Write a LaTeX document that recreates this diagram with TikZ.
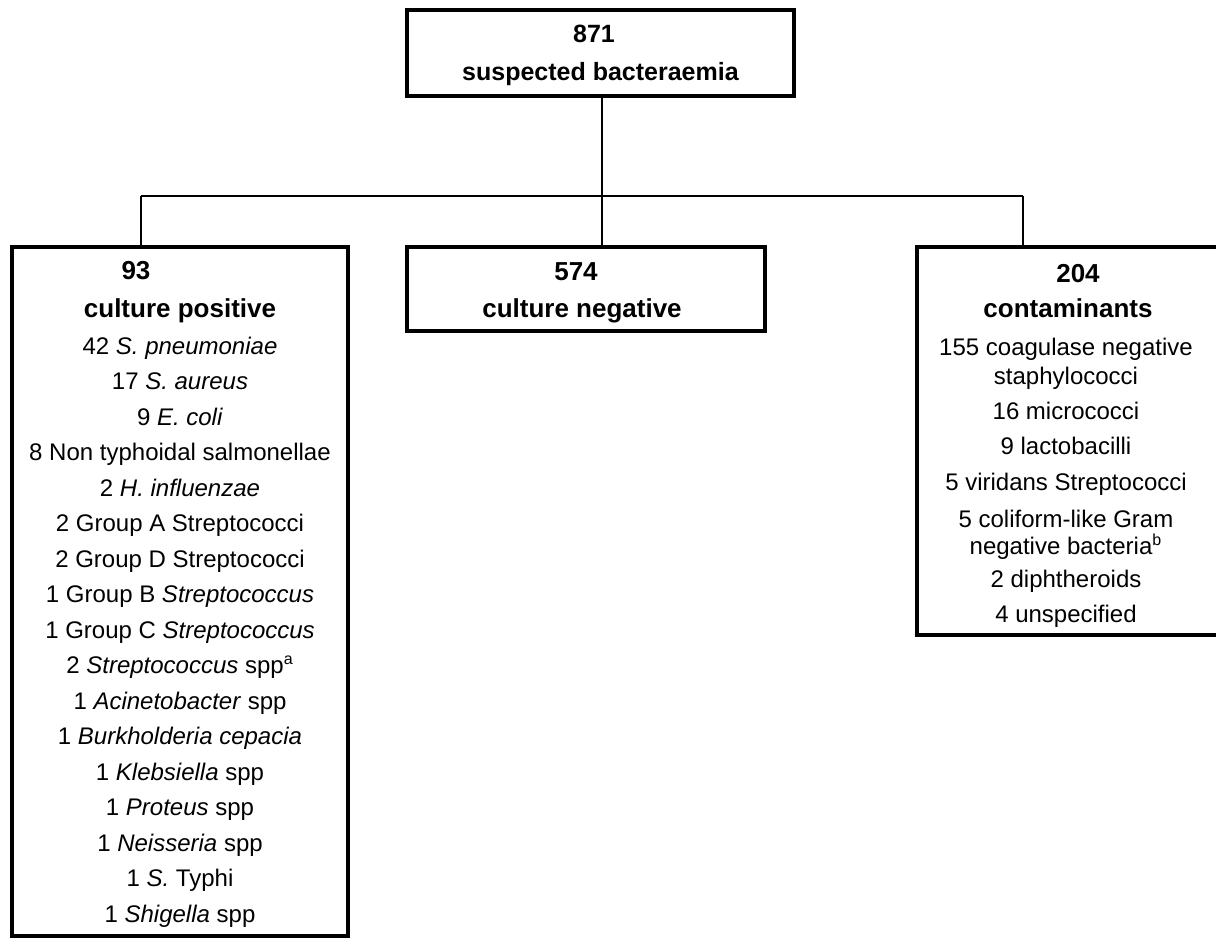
\documentclass[tikz,border=0pt]{standalone}
\usepackage{fontspec}
\setmainfont{Liberation Sans}
\begin{document}
\begin{tikzpicture}[x=0.5pt, y=-0.5pt,
	box/.style={draw, line width=2.2pt, inner sep=0pt},
	link/.style={line width=1.2pt},
	head/.style={font=\fontsize{13}{15}\selectfont\bfseries, text height=.72em, text depth=0pt, inner sep=0pt},
	item/.style={font=\fontsize{12}{14}\selectfont, text height=.72em, text depth=0pt, inner sep=0pt}]
	\useasboundingbox (0, 0) rectangle (1216, 941);

	% boxes
	\node[box, minimum width=193.5pt, minimum height=43pt] (total) at (600.5, 53) {};
	\node[box, minimum width=168pt, minimum height=344.5pt] (pos) at (180, 591.5) {};
	\node[box, minimum width=179pt, minimum height=42pt] (neg) at (586, 289) {};
	\node[box, minimum width=151pt, minimum height=194pt] (cont) at (1068, 441) {};

	% tree lines
	\coordinate (hub) at (602, 196);
	\coordinate (hub-l) at (141, 196);
	\coordinate (hub-r) at (1023, 196);
	\draw[link] (total.south -| hub) -- (hub);
	\draw[link] (hub-l) -- (hub-r);
	\draw[link] (hub-l) -- (hub-l |- pos.north);
	\draw[link] (hub) -- (hub |- neg.north);
	\draw[link] (hub-r) -- (hub-r |- cont.north);

	% top
	\node[head, font=\fontsize{12.5}{15}\selectfont\bfseries] (total-n) at (594, 35) {871};
	\node[head, font=\fontsize{12.5}{15}\selectfont\bfseries] (total-t) at (600.5, 73) {suspected bacteraemia};

	% culture positive
	\node[head] (pos-n) at (136, 272) {93};
	\node[head] (pos-t) at (180, 310) {culture positive};
	\foreach \txt [count=\i from 0] in {
		42 \textit{S. pneumoniae}, 17 \textit{S. aureus}, 9 \textit{E. coli},
		8 Non typhoidal salmonellae, 2 \textit{H. influenzae},
		2 Group A Streptococci, 2 Group D Streptococci,
		1 Group B \textit{Streptococcus}, 1 Group C \textit{Streptococcus},
		2 \textit{Streptococcus} spp\textsuperscript{a}, 1 \textit{Acinetobacter} spp,
		1 \textit{Burkholderia cepacia}, 1 \textit{Klebsiella} spp,
		1 \textit{Proteus} spp, 1 \textit{Neisseria} spp,
		1 \textit{S.} Typhi, 1 \textit{Shigella} spp
	}{
		\node[item] (pos-\i) at (180, 347 + 35.5 * \i) {\txt};
	}

	% culture negative
	\node[head] (neg-n) at (576, 273) {574};
	\node[head] (neg-t) at (582, 310) {culture negative};

	% contaminants
	\node[head] (cont-n) at (1078, 275) {204};
	\node[head] (cont-t) at (1068, 310) {contaminants};
	\foreach \y/\txt [count=\i] in {
		348/155 coagulase negative, 377/staphylococci, 412/16 micrococci,
		447/9 lactobacilli, 483/5 viridans Streptococci, 520/5 coliform-like Gram,
		547/negative bacteria\textsuperscript{b}, 580/2 diphtheroids, 615/4 unspecified
	}{
		\node[item] (cont-\i) at (1066, \y) {\txt};
	}
\end{tikzpicture}
\end{document}
